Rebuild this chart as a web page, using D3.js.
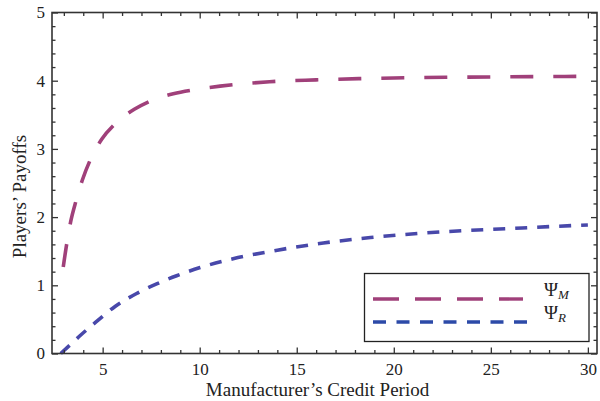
<!DOCTYPE html>
<html>
<head>
<meta charset="utf-8">
<script src="https://cdn.jsdelivr.net/npm/d3@7"></script>
<style>
  html, body { margin: 0; padding: 0; background: #fff; }
  svg { display: block; }
  text { font-family: "Liberation Serif", "Times New Roman", serif; fill: #222; }
</style>
</head>
<body>
<svg id="chart" width="600" height="401"></svg>
<script>
// Manufacturer's credit period (x) and the players' payoffs
const periodM = [2.97, 3.15, 3.35, 3.63, 3.95, 4.38, 4.95, 5.69, 6.63, 7.61, 8.64, 9.76, 11.05, 13.6, 16, 18.2, 20, 22.7, 25, 27.5, 30];
const payoffM = [1.27, 1.61, 1.93, 2.24, 2.54, 2.85, 3.14, 3.38, 3.58, 3.72, 3.81, 3.87, 3.92, 3.985, 4.012, 4.03, 4.04, 4.05, 4.055, 4.06, 4.065];

const periodR = [2.84, 3.49, 3.83, 4.69, 5.64, 6.75, 7.78, 8.81, 10.02, 11.72, 14, 16.37, 18.8, 21.26, 23.5, 25.82, 28, 30];
const payoffR = [0, 0.17, 0.26, 0.47, 0.69, 0.88, 1.02, 1.14, 1.26, 1.39, 1.515, 1.62, 1.70, 1.76, 1.80, 1.83, 1.86, 1.885];

const xMajorTicks = [5, 10, 15, 20, 25, 30];
const yMajorTicks = [0, 1, 2, 3, 4, 5];
const seriesNames = ["M", "R"];

const svg = d3.select("#chart");
const plotL = 52, plotR = 597, plotT = 12.5, plotB = 353.5;

const x = d3.scaleLinear().domain([2.39, 30.47]).range([plotL, plotR]);
const y = d3.scaleLinear().domain([0, 5]).range([plotB, plotT]);

const xMinor = d3.range(3, 31).filter(v => v % 5 !== 0);
const yMinor = d3.range(0, 5.001, 0.2).filter(v => Math.abs(v - Math.round(v)) > 1e-6);

const colM = "#a0407a", colR = "#4848aa";

// curves
const line = d3.line().x(d => x(d[0])).y(d => y(d[1])).curve(d3.curveMonotoneX);
svg.append("path")
  .datum(periodM.map((p, i) => [p, payoffM[i]]))
  .attr("d", line)
  .attr("fill", "none").attr("stroke", colM).attr("stroke-width", 3.6)
  .attr("stroke-dasharray", "23 20");

svg.append("path")
  .datum(periodR.map((p, i) => [p, payoffR[i]]))
  .attr("d", line)
  .attr("fill", "none").attr("stroke", colR).attr("stroke-width", 3.6)
  .attr("stroke-dasharray", "12 10");

// axes with inward ticks on all four sides
function styleAxis(g) {
  g.select(".domain").remove();
  g.selectAll(".tick line").attr("stroke", "#333").attr("stroke-width", 1.3);
  g.selectAll(".tick text").attr("font-size", 17).attr("font-family", "Liberation Serif, serif").attr("fill", "#222");
}

svg.append("g").attr("transform", `translate(0,${plotB})`)
  .call(d3.axisBottom(x).tickValues(xMajorTicks).tickSize(-6).tickPadding(9).tickFormat(d3.format("d")))
  .call(styleAxis);
svg.append("g").attr("transform", `translate(0,${plotB})`)
  .call(d3.axisBottom(x).tickValues(xMinor).tickSize(-3.5).tickFormat(""))
  .call(styleAxis);
svg.append("g").attr("transform", `translate(0,${plotT})`)
  .call(d3.axisTop(x).tickValues(xMajorTicks).tickSize(-6).tickFormat(""))
  .call(styleAxis);
svg.append("g").attr("transform", `translate(0,${plotT})`)
  .call(d3.axisTop(x).tickValues(xMinor).tickSize(-3.5).tickFormat(""))
  .call(styleAxis);

svg.append("g").attr("transform", `translate(${plotL},0)`)
  .call(d3.axisLeft(y).tickValues(yMajorTicks).tickSize(-6).tickPadding(7).tickFormat(d3.format("d")))
  .call(styleAxis);
svg.append("g").attr("transform", `translate(${plotL},0)`)
  .call(d3.axisLeft(y).tickValues(yMinor).tickSize(-3.5).tickFormat(""))
  .call(styleAxis);
svg.append("g").attr("transform", `translate(${plotR},0)`)
  .call(d3.axisRight(y).tickValues(yMajorTicks).tickSize(-6).tickFormat(""))
  .call(styleAxis);
svg.append("g").attr("transform", `translate(${plotR},0)`)
  .call(d3.axisRight(y).tickValues(yMinor).tickSize(-3.5).tickFormat(""))
  .call(styleAxis);

// frame
svg.append("rect")
  .attr("x", plotL).attr("y", plotT).attr("width", plotR - plotL).attr("height", plotB - plotT)
  .attr("fill", "none").attr("stroke", "#333").attr("stroke-width", 1.6);

// axis titles
svg.append("text")
  .attr("x", 317.5).attr("y", 396)
  .attr("text-anchor", "middle").attr("font-size", 19)
  .text("Manufacturer\u2019s Credit Period");

svg.append("text")
  .attr("transform", "translate(25.5,196.5) rotate(-90)")
  .attr("text-anchor", "middle").attr("font-size", 19)
  .text("Players\u2019 Payoffs");

// legend
const legend = svg.append("g");
legend.append("rect")
  .attr("x", 364.5).attr("y", 273.5).attr("width", 224.5).attr("height", 68)
  .attr("fill", "#fff").attr("stroke", "#222").attr("stroke-width", 1.3);

const legendRows = [
  { name: seriesNames[0], color: colM, dash: "26 16", y: 299, x2: 523 },
  { name: seriesNames[1], color: "#2c4aa8", dash: "13 10.5", y: 322, x2: 534 }
];
legendRows.forEach(r => {
  legend.append("line")
    .attr("x1", 373).attr("x2", r.x2).attr("y1", r.y).attr("y2", r.y)
    .attr("stroke", r.color).attr("stroke-width", 3.4).attr("stroke-dasharray", r.dash);
  const t = legend.append("text").attr("x", 544).attr("y", r.y - 3).attr("font-size", 19);
  t.append("tspan").text("\u03A8");
  t.append("tspan").attr("font-style", "italic").attr("font-size", 13).attr("dy", 3).text(r.name);
});
</script>
</body>
</html>
